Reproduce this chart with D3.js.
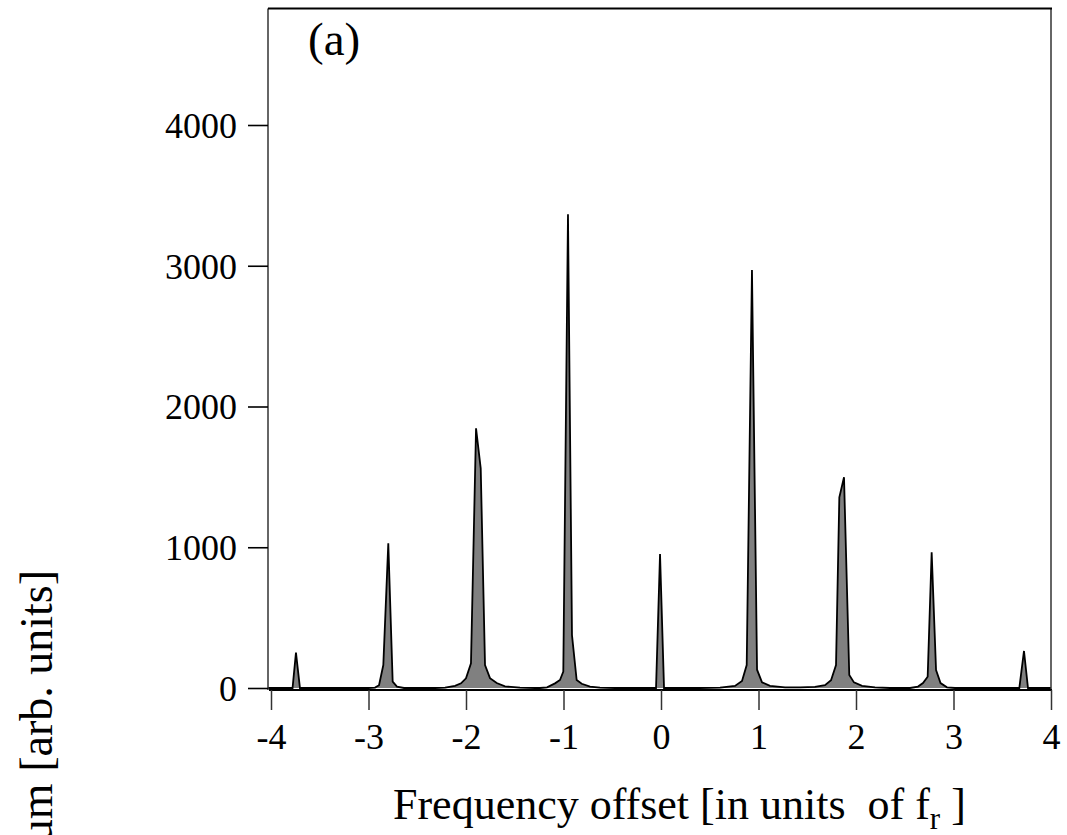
<!DOCTYPE html>
<html><head><meta charset="utf-8">
<script src="https://cdn.jsdelivr.net/npm/d3@7"></script>
<style>
html,body{margin:0;padding:0;background:#fff;}
svg{display:block;}
text{font-family:"Liberation Serif","Times New Roman",serif;fill:#000;}
</style></head>
<body>
<svg id="chart" width="1067" height="835"></svg>
<script>
// Frequency offset (units of f_r)
const specX = [-4.03, -3.779, -3.744, -3.703, -3.005, -2.933, -2.892, -2.848, -2.797, -2.752, -2.708, -2.636,
  -2.318, -2.215, -2.113, -2.051, -2.0, -1.949, -1.897, -1.849, -1.805, -1.754, -1.685, -1.600, -1.446, -1.292,
  -1.241, -1.169, -1.087, -1.036, -1.002, -0.954, -0.913, -0.865, -0.813, -0.728, -0.626, -0.472,
  -0.051, -0.010, 0.031, 0.400, 0.605, 0.759, 0.831, 0.879, 0.933, 0.985, 1.036, 1.118, 1.272, 1.426,
  1.579, 1.682, 1.744, 1.795, 1.829, 1.877, 1.931, 1.979, 2.062, 2.195, 2.349,
  2.554, 2.636, 2.687, 2.735, 2.776, 2.821, 2.867, 2.933, 3.015, 3.675, 3.723, 3.764, 4.0];
// Spectrum (arb. units)
const specY = [0, 0, 251, 0, 0, 3, 20, 163, 1028, 45, 10, 0,
  0, 3, 15, 33, 69, 175, 1845, 1561, 163, 70, 35, 12, 3, 0,
  0, 5, 33, 57, 116, 3365, 376, 57, 30, 10, 3, 0,
  0, 952, 0, 0, 3, 15, 50, 163, 2970, 130, 40, 15, 5, 5,
  8, 20, 55, 163, 1355, 1497, 92, 40, 15, 5, 0,
  0, 10, 35, 80, 964, 128, 35, 5, 0, 0, 263, 0, 0];
const xTicks = [-4, -3, -2, -1, 0, 1, 2, 3, 4];
const yTicks = [0, 1000, 2000, 3000, 4000];
const panelLabel = "(a)";
const xTitle = "Frequency offset [in units  of f";
const xTitleSub = "r";
const yTitle = "Power spectrum [arb. units]";

const data = specX.map((v, i) => ({x: v, y: specY[i]}));

const svg = d3.select("#chart");
const frameL = 268, frameR = 1051, frameT = 8.5, frameB = 690;

const x = d3.scaleLinear().domain([-4, 4]).range([271, 1051]);
const y = d3.scaleLinear().domain([0, 4000]).range([688, 125]);

const area = d3.area().x(d => x(d.x)).y0(y(0)).y1(d => y(d.y)).curve(d3.curveLinear);
const line = d3.line().x(d => x(d.x)).y(d => y(d.y)).curve(d3.curveLinear);

svg.append("clipPath").attr("id", "clip").append("rect")
  .attr("x", frameL).attr("y", frameT).attr("width", frameR - frameL).attr("height", frameB - frameT + 2);

const g = svg.append("g").attr("clip-path", "url(#clip)");
g.append("path").datum(data).attr("d", area).attr("fill", "#808080").attr("stroke", "none");
g.append("path").datum(data).attr("d", line).attr("fill", "none")
  .attr("stroke", "#000").attr("stroke-width", 1.8).attr("stroke-linejoin", "miter");

// frame
svg.append("line").attr("x1", frameL).attr("x2", frameL).attr("y1", frameT).attr("y2", frameB)
  .attr("stroke", "#333").attr("stroke-width", 1.5);
svg.append("line").attr("x1", frameR).attr("x2", frameR).attr("y1", frameT).attr("y2", frameB)
  .attr("stroke", "#333").attr("stroke-width", 1.5);
svg.append("line").attr("x1", frameL).attr("x2", frameR + 1).attr("y1", frameT).attr("y2", frameT)
  .attr("stroke", "#000").attr("stroke-width", 2.2);
svg.append("line").attr("x1", frameL + 1).attr("x2", frameR + 1).attr("y1", frameB).attr("y2", frameB)
  .attr("stroke", "#000").attr("stroke-width", 2);

// y axis
const yAxis = d3.axisLeft(y).tickValues(yTicks).tickSize(20).tickPadding(11).tickFormat(d => String(d));
const ya = svg.append("g").attr("transform", `translate(${frameL},0)`).call(yAxis);
ya.select(".domain").remove();
ya.selectAll(".tick line").attr("stroke", "#000").attr("stroke-width", 1.6);
ya.selectAll(".tick text").attr("font-size", 36).attr("font-family", "Liberation Serif, serif").attr("dy", "0.34em");

// x axis
const xAxis = d3.axisBottom(x).tickValues(xTicks).tickSize(20).tickPadding(13).tickFormat(d => String(d));
const xa = svg.append("g").attr("transform", `translate(0,${frameB})`).call(xAxis);
xa.select(".domain").remove();
xa.selectAll(".tick line").attr("stroke", "#333").attr("stroke-width", 1.5);
xa.selectAll(".tick text").attr("font-size", 36).attr("font-family", "Liberation Serif, serif");

// panel label
svg.append("text").attr("x", 308).attr("y", 55).attr("font-size", 47).text(panelLabel);

// x title
const xt = svg.append("text").attr("x", 393).attr("y", 819).attr("font-size", 44)
  .style("white-space", "pre");
xt.append("tspan").text(xTitle);
xt.append("tspan").attr("font-size", 31).attr("dy", 10).text(xTitleSub);
xt.append("tspan").attr("dy", -10).text(" ]");

// y title
svg.append("text").attr("transform", "translate(52,570) rotate(-90)")
  .attr("text-anchor", "end").attr("font-size", 46).text(yTitle);
</script>
</body></html>
